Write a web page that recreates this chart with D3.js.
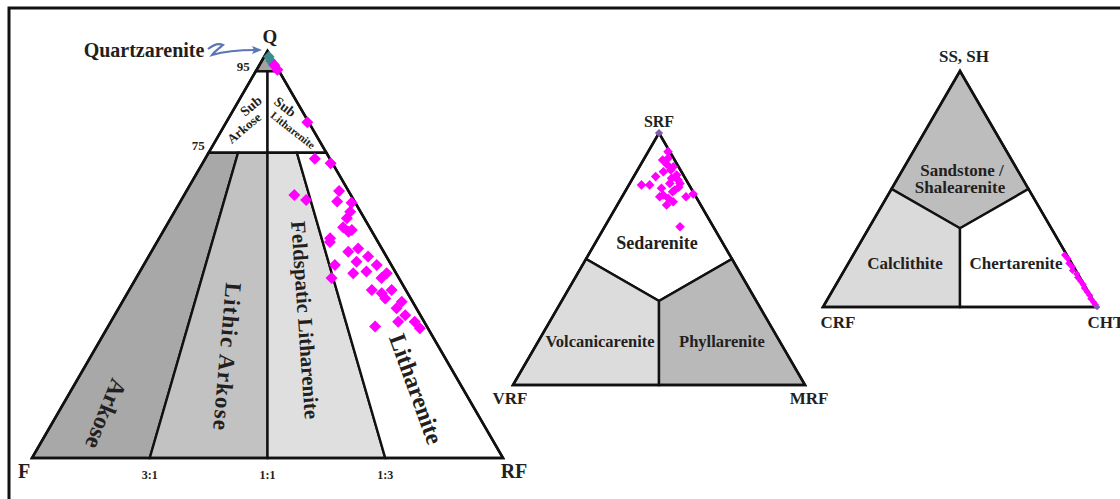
<!DOCTYPE html>
<html><head><meta charset="utf-8">
<script src="https://cdn.jsdelivr.net/npm/d3@7"></script>
<style>
html,body{margin:0;padding:0;background:#fff;}
svg{display:block;}
text{font-family:"Liberation Serif","Times New Roman",serif;font-weight:bold;fill:#231f20;}
</style>
</head><body>
<svg id="chart" width="1120" height="499"></svg>
<script>
// ---------- DATA ----------
// Q-F-RF (Folk 1980) sample compositions, %
const qfrQ  = [73.5,72.4,64.6,63.4,65.6,63.0,62.7,60.5,58.9,56.7,56.0,54.0,55.6,53.1,50.7,51.5,49.5,47.4,48.2,44.2,45.4,45.8,47.4,45.4,44.2,41.3,40.5,41.3,39.2,38.4,36.8,35.1,33.5,33.5,32.3,31.9,82.5,95.4,96.5];
const qfrF  = [3.2,0.4,12.0,10.1,2.0,3.7,0.8,2.2,3.7,5.6,4.1,9.7,5.0,10.2,7.5,5.0,3.9,12.0,7.0,14.3,9.1,6.1,3.1,2.0,3.7,7.2,5.5,3.0,5.4,2.3,4.2,3.2,5.5,2.0,11.0,1.7,0.3,0.2,0.3];
const qfrRF = [23.3,27.2,23.4,26.5,32.4,33.3,36.5,37.3,37.4,37.7,39.9,36.3,39.4,36.7,41.8,43.5,46.6,40.6,44.8,41.5,45.5,48.1,49.5,52.6,52.1,51.5,54.0,55.7,55.4,59.3,59.0,61.7,61.0,64.5,56.7,66.4,17.2,4.4,3.2];
const qfrRefQ  = [98.6,97.6,96.9];
const qfrRefF  = [0.4,0.5,0.4];
const qfrRefRF = [1.0,1.9,2.7];

// SRF-VRF-MRF sample compositions, %
const rfS = [92.6,89.3,86.6,84.6,83.3,82.7,79.4,79.4,78.1,81.3,80.0,76.7,74.7,75.8,74.7,74.1,71.4,72.7,62.8,82.0,80.0,77.4,75.4,90.0,85.3,87.5,78.5];
const rfV = [0.6,4.1,1.8,6.2,2.3,9.8,16.3,13.5,10.1,2.8,2.8,7.0,3.4,0.4,12.4,9.8,11.7,8.8,11.4,4.7,6.3,5.9,10.9,1.9,3.3,3.5,4.0];
const rfM = [6.8,6.6,11.6,9.2,14.4,7.5,4.3,7.1,11.8,15.9,17.2,16.3,21.9,23.8,12.9,16.1,16.9,18.5,25.8,13.3,13.7,16.7,13.7,8.1,11.4,9.0,17.5];
const rfRefS = [100], rfRefV = [0], rfRefM = [0];

// SS,SH - CRF - CHT sample compositions, %
const sedSS  = [22.0,20.5,18.5,17.0,15.5,14.0,12.5,11.0,9.5,8.0,6.5,5.0,3.5,2.0,1.0];
const sedCRF = [0.8,0.4,1.0,0.5,1.2,0.4,0.8,0.5,0.3,0.6,0.4,0.2,0.5,0.2,0.1];
const sedCHT = [77.2,79.1,80.5,82.5,83.3,85.6,86.7,88.5,90.2,91.4,93.1,94.8,96.0,97.8,98.9];
const sedRefSS = [0], sedRefCRF = [0], sedRefCHT = [100];

// Tick labels
const qfrBaseTicks = ["3:1","1:1","1:3"];
const qfrBaseTickVals = [25,50,75];     // % RF along F-RF side
const qfrQTicks = ["95","75"];
const qfrQTickVals = [95,75];

// ---------- LAYOUT ----------
const svg = d3.select("#chart");
svg.append("rect").attr("x",9).attr("y",8).attr("width",1300).attr("height",700)
   .attr("fill","none").attr("stroke","#111").attr("stroke-width",3);

function ternary(x0,x1,yBase,yTop){
  const xs = d3.scaleLinear().domain([0,100]).range([x0,x1]);
  const ys = d3.scaleLinear().domain([0,100]).range([yBase,yTop]);
  const f = (t,l,r)=>[xs(r + t/2), ys(t)];
  f.xs = xs; f.ys = ys;
  return f;
}
const T1 = ternary(32,503,458,51);
const T2 = ternary(513,805,385,133);
const T3 = ternary(823,1097,307,71);

const line = d3.line();
function drawRegions(g, T, regions){
  g.selectAll("path.reg").data(regions).join("path").attr("class","reg")
    .attr("d", d=> line(d.pts.map(p=>T(...p)))+"Z")
    .attr("fill", d=>d.fill).attr("stroke","#111").attr("stroke-width",2.4)
    .attr("stroke-linejoin","miter");
}
function outline(g,T){
  g.append("path").attr("d", line([T(100,0,0),T(0,100,0),T(0,0,100)])+"Z")
   .attr("fill","none").attr("stroke","#111").attr("stroke-width",2.6).attr("stroke-linejoin","miter");
}
function diamonds(g,T,top,left,right,color,size){
  const sym = d3.symbol().type(d3.symbolSquare).size(size)();
  g.selectAll(null).data(top.map((t,i)=>[t,left[i],right[i]])).join("path")
   .attr("d",sym).attr("fill",color)
   .attr("transform",d=>{const p=T(...d);return `translate(${p[0]},${p[1]}) rotate(45)`;});
}
function label(x,y,txt,size,rot,anchor,ls){
  const t = svg.append("text").attr("font-size",size).attr("text-anchor",anchor||"middle")
    .attr("transform",`translate(${x},${y})`+(rot?` rotate(${rot})`:"")).text(txt);
  if(rot) t.attr("dominant-baseline","central");
  if(ls) t.attr("letter-spacing",ls);
  return t;
}

// ---------- LEFT: Q-F-RF ----------
const g1 = svg.append("g");
drawRegions(g1,T1,[
  {fill:"#a3a3a3", pts:[[100,0,0],[95,5,0],[95,0,5]]},
  {fill:"#ffffff", pts:[[95,5,0],[75,25,0],[75,12.5,12.5],[95,2.5,2.5]]},
  {fill:"#ffffff", pts:[[95,2.5,2.5],[75,12.5,12.5],[75,0,25],[95,0,5]]},
  {fill:"#a8a8a8", pts:[[75,25,0],[0,100,0],[0,75,25],[75,18.75,6.25]]},
  {fill:"#c2c2c2", pts:[[75,18.75,6.25],[0,75,25],[0,50,50],[75,12.5,12.5]]},
  {fill:"#dfdfdf", pts:[[75,12.5,12.5],[0,50,50],[0,25,75],[75,6.25,18.75]]},
  {fill:"#ffffff", pts:[[75,6.25,18.75],[0,25,75],[0,0,100],[75,0,25]]}
]);
outline(g1,T1);
diamonds(g1,T1,qfrRefQ,qfrRefF,qfrRefRF,"#3f8a8f",64);
diamonds(g1,T1,qfrQ,qfrF,qfrRF,"#ff00ff",72);

// region labels
label(106,414,"Arkose",24,112);
label(227,357,"Lithic Arkose",23,95,null,1.2);
label(305,320,"Feldspatic Litharenite",21,86);
label(416,389,"Litharenite",24,70);
label(251,106,"Sub",14,-40);
label(244,128,"Arkose",13,-40);
label(285,107,"Sub",14,38);
label(293,130,"Litharenite",11,38);
// corners & ticks
label(270,43,"Q",19);
label(24,478,"F",20);
label(514,478,"RF",20);
qfrBaseTicks.forEach((t,i)=>{ label(T1(0,100-qfrBaseTickVals[i],qfrBaseTickVals[i])[0],479,t,12); });
qfrQTicks.forEach((t,i)=>{ const p=T1(qfrQTickVals[i],100-qfrQTickVals[i],0); label(p[0]-(i?4:6),p[1]-(i?3:0),t,13,0,"end"); });
label(144,57,"Quartzarenite",20);
// squiggly arrow
svg.append("path").attr("d","M208,49 C213,45 219,43 223,45 C218,49 214,52 212,55 C222,52 236,50 256,50")
   .attr("fill","none").attr("stroke","#5b76b5").attr("stroke-width",2.2);
svg.append("path").attr("d","M262,50 L252,46 L254,50 L252,54 Z").attr("fill","#5b76b5");

// ---------- MIDDLE: SRF-VRF-MRF ----------
const g2 = svg.append("g");
const c3 = [100/3,100/3,100/3];
drawRegions(g2,T2,[
  {fill:"#ffffff", pts:[[100,0,0],[50,50,0],c3,[50,0,50]]},
  {fill:"#dcdcdc", pts:[[50,50,0],[0,100,0],[0,50,50],c3]},
  {fill:"#b9b9b9", pts:[c3,[0,50,50],[0,0,100],[50,0,50]]}
]);
outline(g2,T2);
diamonds(g2,T2,rfS,rfV,rfM,"#ff00ff",46);
diamonds(g2,T2,rfRefS,rfRefV,rfRefM,"#8459b0",34);
label(659,127,"SRF",16);
label(510,404,"VRF",17);
label(809,404,"MRF",17);
label(657,249,"Sedarenite",18);
label(600,347,"Volcanicarenite",16.5);
label(722,347,"Phyllarenite",16.5);

// ---------- RIGHT: SS,SH-CRF-CHT ----------
const g3 = svg.append("g");
drawRegions(g3,T3,[
  {fill:"#bdbdbd", pts:[[100,0,0],[50,50,0],c3,[50,0,50]]},
  {fill:"#dadada", pts:[[50,50,0],[0,100,0],[0,50,50],c3]},
  {fill:"#ffffff", pts:[c3,[0,50,50],[0,0,100],[50,0,50]]}
]);
outline(g3,T3);
diamonds(g3,T3,sedSS,sedCRF,sedCHT,"#ff00ff",26);
diamonds(g3,T3,sedRefSS,sedRefCRF,sedRefCHT,"#8459b0",22);
label(964,62,"SS, SH",17);
label(838,328,"CRF",17);
label(1106,328,"CHT",17);
label(962,176,"Sandstone /",17);
label(960,193,"Shalearenite",17);
label(905,269,"Calclithite",17);
label(1016,269,"Chertarenite",17);
</script>
</body></html>
